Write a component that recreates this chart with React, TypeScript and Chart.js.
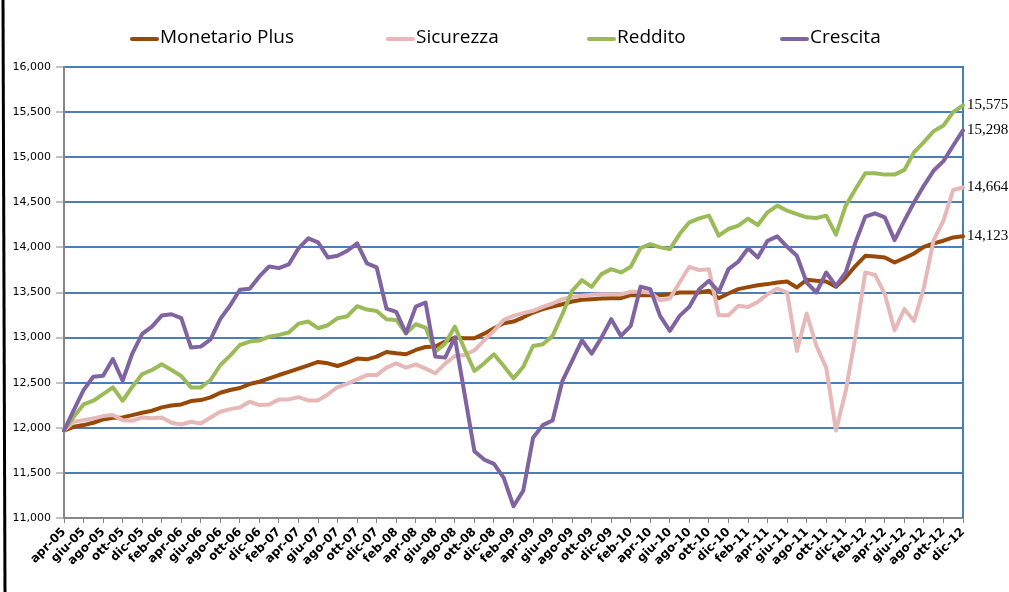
import { useEffect, useRef } from 'react';
import { Chart, registerables } from 'chart.js';
Chart.register(...registerables);

const categories = [
  'apr-05','mag-05','giu-05','lug-05','ago-05','set-05','ott-05','nov-05','dic-05',
  'gen-06','feb-06','mar-06','apr-06','mag-06','giu-06','lug-06','ago-06','set-06','ott-06','nov-06','dic-06',
  'gen-07','feb-07','mar-07','apr-07','mag-07','giu-07','lug-07','ago-07','set-07','ott-07','nov-07','dic-07',
  'gen-08','feb-08','mar-08','apr-08','mag-08','giu-08','lug-08','ago-08','set-08','ott-08','nov-08','dic-08',
  'gen-09','feb-09','mar-09','apr-09','mag-09','giu-09','lug-09','ago-09','set-09','ott-09','nov-09','dic-09',
  'gen-10','feb-10','mar-10','apr-10','mag-10','giu-10','lug-10','ago-10','set-10','ott-10','nov-10','dic-10',
  'gen-11','feb-11','mar-11','apr-11','mag-11','giu-11','lug-11','ago-11','set-11','ott-11','nov-11','dic-11',
  'gen-12','feb-12','mar-12','apr-12','mag-12','giu-12','lug-12','ago-12','set-12','ott-12','nov-12','dic-12',
];

const monetarioPlus = [
  11970,12011,12030,12056,12093,12111,12115,12141,12167,12189,
  12226,12248,12259,12296,12307,12337,12389,12419,12441,12485,
  12511,12548,12585,12619,12655,12693,12730,12715,12685,12722,
  12767,12759,12789,12841,12826,12815,12863,12896,12900,12956,
  13000,12993,12993,13044,13104,13159,13178,13225,13278,13315,
  13344,13370,13400,13419,13426,13433,13437,13437,13470,13470,
  13470,13470,13481,13500,13500,13500,13519,13437,13489,13537,
  13560,13581,13593,13611,13622,13556,13641,13630,13622,13563,
  13667,13796,13907,13900,13889,13833,13881,13933,14007,14044,
  14074,14111,14123,
];

const sicurezza = [
  11970,12067,12085,12104,12130,12141,12085,12078,12115,12107,
  12115,12056,12037,12067,12048,12115,12178,12207,12226,12289,
  12252,12259,12315,12315,12340,12304,12304,12370,12452,12489,
  12537,12585,12585,12667,12715,12667,12704,12656,12604,12711,
  12796,12807,12859,12970,13074,13196,13241,13272,13296,13341,
  13378,13426,13452,13463,13474,13481,13481,13481,13507,13507,
  13500,13415,13433,13611,13785,13748,13759,13248,13248,13352,
  13340,13396,13481,13544,13500,12852,13267,12907,12667,11970,
  12407,13019,13722,13696,13481,13081,13315,13185,13556,14081,
  14296,14637,14664,
];

const reddito = [
  11970,12122,12259,12300,12374,12448,12300,12456,12596,12641,
  12704,12641,12574,12448,12448,12530,12696,12800,12918,12956,
  12967,13011,13030,13056,13155,13178,13104,13137,13215,13237,
  13348,13311,13296,13204,13196,13048,13148,13111,12844,12933,
  13122,12870,12630,12715,12815,12685,12548,12676,12907,12926,
  13019,13259,13519,13637,13563,13704,13759,13722,13785,13993,
  14037,14000,13981,14148,14278,14322,14352,14130,14204,14241,
  14318,14248,14389,14463,14407,14370,14333,14326,14352,14141,
  14463,14648,14822,14822,14807,14807,14859,15056,15167,15289,
  15352,15500,15575,
];

const crescita = [
  11970,12196,12418,12567,12578,12763,12522,12826,13041,13122,
  13244,13259,13215,12889,12900,12981,13207,13356,13530,13541,
  13678,13789,13770,13811,13990,14100,14055,13889,13907,13963,
  14044,13822,13778,13322,13285,13048,13344,13389,12789,12778,
  13000,12370,11741,11648,11600,11444,11130,11304,11889,12030,
  12081,12518,12741,12970,12822,13000,13204,13019,13130,13563,
  13537,13241,13074,13241,13341,13537,13630,13507,13759,13841,
  13990,13889,14074,14122,14007,13907,13611,13500,13722,13574,
  13722,14056,14341,14378,14333,14081,14296,14500,14685,14852,
  14956,15130,15298,
];

const seriesNames = ['Monetario Plus', 'Sicurezza', 'Reddito', 'Crescita'];
const seriesColors = ['#984807', '#E6B9B8', '#9BBB59', '#8064A2'];
const legendStarts = [130, 386, 587, 780];

const fmt = (v: number) => Number(v).toLocaleString('en-US');

const decor = {
  id: 'decor',
  beforeDatasetsDraw(chart: any) {
    const { ctx, chartArea } = chart;
    ctx.save();
    ctx.strokeStyle = '#4A7EBB';
    ctx.lineWidth = 2;
    ctx.beginPath();
    ctx.moveTo(chartArea.right, chartArea.top - 1);
    ctx.lineTo(chartArea.right, chartArea.bottom);
    ctx.stroke();
    ctx.restore();
  },
  afterDraw(chart: any) {
    const { ctx } = chart;
    ctx.save();
    // end-of-line data labels
    ctx.font = '15px "Liberation Serif"';
    ctx.fillStyle = '#000';
    ctx.textBaseline = 'middle';
    ctx.textAlign = 'left';
    chart.data.datasets.forEach((ds: any, i: number) => {
      const meta = chart.getDatasetMeta(i);
      const pt = meta.data[meta.data.length - 1];
      const v = ds.data[ds.data.length - 1];
      ctx.fillText(fmt(v), pt.x + 4, pt.y);
    });
    // legend
    ctx.font = '19px "Open Sans"';
    chart.data.datasets.forEach((ds: any, i: number) => {
      const x = legendStarts[i];
      ctx.strokeStyle = ds.borderColor;
      ctx.lineWidth = 4;
      ctx.lineCap = 'round';
      ctx.beginPath();
      ctx.moveTo(x + 2, 39);
      ctx.lineTo(x + 27, 39);
      ctx.stroke();
      ctx.fillStyle = '#000';
      ctx.fillText(ds.label, x + 30, 38);
    });
    // outer frame line on the left
    ctx.strokeStyle = '#000';
    ctx.lineWidth = 3;
    ctx.lineCap = 'butt';
    ctx.beginPath();
    ctx.moveTo(3, 0);
    ctx.lineTo(5, 592);
    ctx.stroke();
    ctx.restore();
  },
};

export default function App() {
  const ref = useRef<HTMLCanvasElement>(null);
  useEffect(() => {
    document.body.style.margin = '0';
    const values = [monetarioPlus, sicurezza, reddito, crescita];
    const chart = new Chart(ref.current as HTMLCanvasElement, {
      type: 'line',
      data: {
        labels: categories,
        datasets: values.map((d, i) => ({
          label: seriesNames[i],
          data: d,
          borderColor: seriesColors[i],
          backgroundColor: seriesColors[i],
          borderWidth: 4,
          pointRadius: 0,
          tension: 0,
          borderJoinStyle: 'round' as const,
          borderCapStyle: 'round' as const,
          order: 4 - i,
        })),
      },
      options: {
        animation: false,
        responsive: false,
        layout: { padding: { left: 0, right: 46, top: 67, bottom: 0 } },
        plugins: { legend: { display: false }, tooltip: { enabled: false } },
        scales: {
          x: {
            offset: false,
            grid: {
              display: true,
              drawOnChartArea: false,
              drawTicks: true,
              tickLength: 5,
              color: '#868686',
              lineWidth: 1,
            },
            border: { display: true, color: '#868686', width: 2 },
            ticks: {
              autoSkip: false,
              maxRotation: 45,
              minRotation: 45,
              padding: 2,
              color: '#000',
              font: { family: '"DejaVu Sans"', size: 12, weight: 'bold' },
              callback: (_v: any, i: number) => (i % 2 === 0 ? categories[i] : null),
            },
            afterFit: (s: any) => { s.height = 74; },
          },
          y: {
            min: 11000,
            max: 16000,
            ticks: {
              stepSize: 500,
              padding: 5,
              color: '#000',
              font: { family: '"DejaVu Sans"', size: 11 },
              callback: (v: any) => fmt(v),
            },
            grid: {
              color: '#4A7EBB',
              lineWidth: 2,
              tickColor: '#868686',
              tickLength: 8,
              tickWidth: 1,
            },
            border: { color: '#868686', width: 2 },
            afterFit: (s: any) => { s.width = 64; },
          },
        },
      },
      plugins: [decor],
    });
    return () => chart.destroy();
  }, []);
  return (
    <div style={{ position: 'absolute', left: 0, top: 0, width: 1009, height: 592, background: '#fff' }}>
      <canvas ref={ref} width={1009} height={592} style={{ display: 'block' }} />
    </div>
  );
}
